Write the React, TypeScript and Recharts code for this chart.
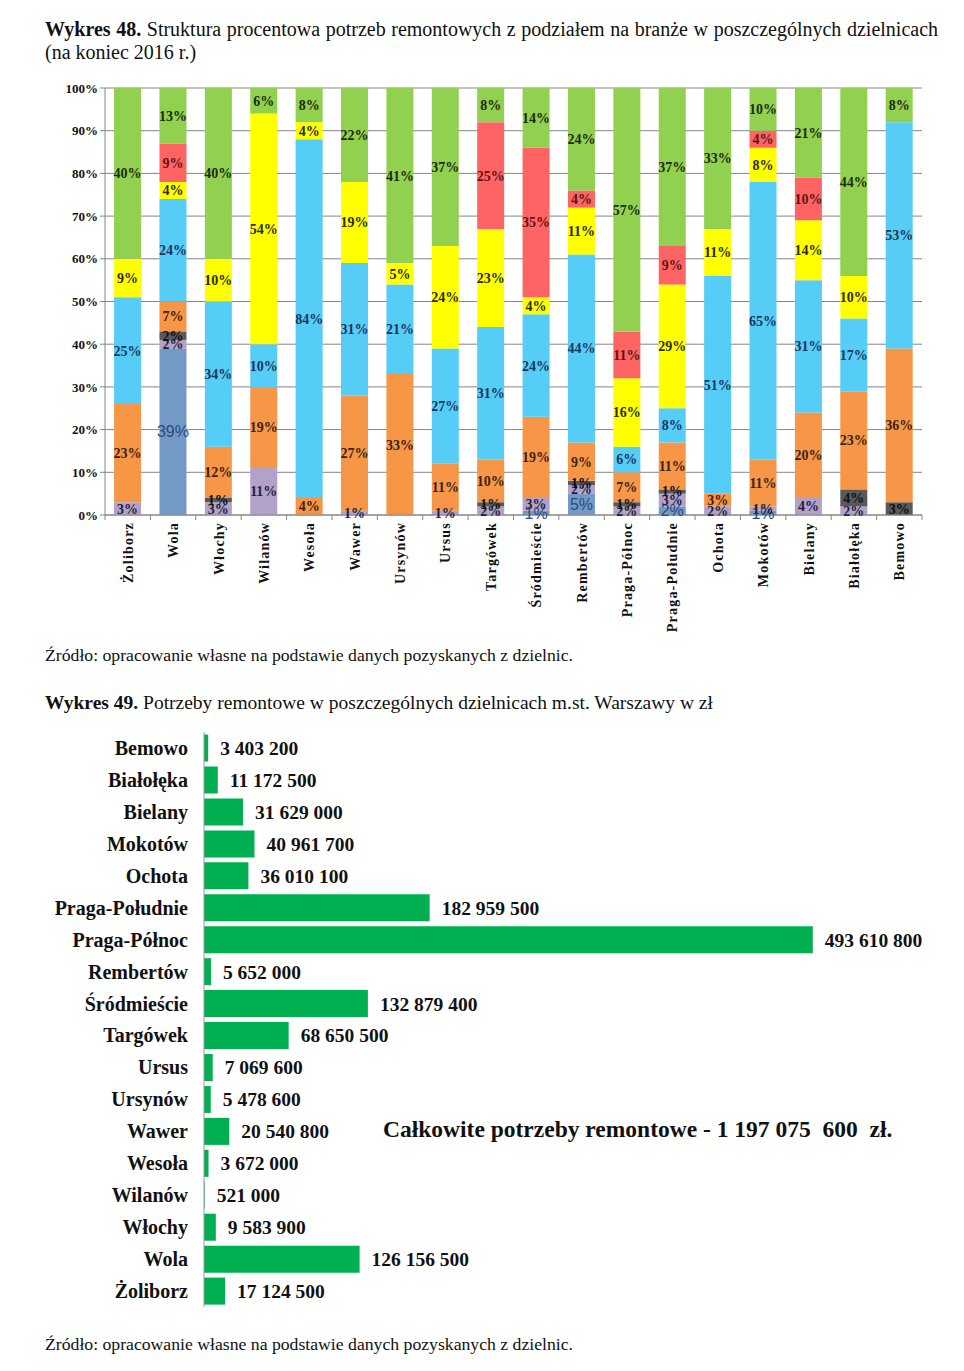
import React from 'react';
import { BarChart, Bar, XAxis, YAxis, CartesianGrid, LabelList } from 'recharts';

// Wykres 48 – districts (left to right)
const districts = [
  'Żoliborz', 'Wola', 'Włochy', 'Wilanów', 'Wesoła', 'Wawer', 'Ursynów', 'Ursus', 'Targówek',
  'Śródmieście', 'Rembertów', 'Praga-Północ', 'Praga-Południe', 'Ochota', 'Mokotów', 'Bielany',
  'Białołęka', 'Bemowo',
];
// shares per trade, bottom to top of each stack (%)
const steelShare = [0, 39, 0, 0, 0, 0, 0, 0, 0, 1, 5, 0, 2, 0, 1, 0, 0, 0];
const lilacShare = [3, 2, 3, 11, 0, 1, 0, 1, 2, 3, 2, 2, 3, 2, 1, 4, 2, 0];
const grayShare = [0, 2, 1, 0, 0, 0, 0, 0, 1, 0, 1, 1, 1, 0, 0, 0, 4, 3];
const orangeShare = [23, 7, 12, 19, 4, 27, 33, 11, 10, 19, 9, 7, 11, 3, 11, 20, 23, 36];
const blueShare = [25, 24, 34, 10, 84, 31, 21, 27, 31, 24, 44, 6, 8, 51, 65, 31, 17, 53];
const yellowShare = [9, 4, 10, 54, 4, 19, 5, 24, 23, 4, 11, 16, 29, 11, 8, 14, 10, 0];
const redShare = [0, 9, 0, 0, 0, 0, 0, 0, 25, 35, 4, 11, 9, 0, 4, 10, 0, 0];
const greenShare = [40, 13, 40, 6, 8, 22, 41, 37, 8, 14, 24, 57, 37, 33, 10, 21, 44, 8];
const percentTicks = [0, 10, 20, 30, 40, 50, 60, 70, 80, 90, 100];

// Wykres 49 – top to bottom
const districts2 = [
  'Bemowo', 'Białołęka', 'Bielany', 'Mokotów', 'Ochota', 'Praga-Południe', 'Praga-Północ',
  'Rembertów', 'Śródmieście', 'Targówek', 'Ursus', 'Ursynów', 'Wawer', 'Wesoła', 'Wilanów',
  'Włochy', 'Wola', 'Żoliborz',
];
const needsPln = [
  3403200, 11172500, 31629000, 40961700, 36010100, 182959500, 493610800, 5652000, 132879400,
  68650500, 7069600, 5478600, 20540800, 3672000, 521000, 9583900, 126156500, 17124500,
];

const SERIF = '"Liberation Serif", "Times New Roman", serif';

const series = [
  { key: 'steel', values: steelShare, color: '#7399c6', label: '#2b4c7e', font: '"Liberation Sans", Arial, sans-serif', weight: 'normal', size: 16 },
  { key: 'lilac', values: lilacShare, color: '#b3a2c7', label: '#1f1f3f', font: SERIF, weight: 'bold', size: 14 },
  { key: 'gray', values: grayShare, color: '#595959', label: '#111', font: SERIF, weight: 'bold', size: 14 },
  { key: 'orange', values: orangeShare, color: '#f79646', label: '#3b2313', font: SERIF, weight: 'bold', size: 14 },
  { key: 'blue', values: blueShare, color: '#55cdf6', label: '#17365d', font: SERIF, weight: 'bold', size: 14 },
  { key: 'yellow', values: yellowShare, color: '#ffff00', label: '#2b2b00', font: SERIF, weight: 'bold', size: 14 },
  { key: 'red', values: redShare, color: '#ff6464', label: '#5e1414', font: SERIF, weight: 'bold', size: 14 },
  { key: 'green', values: greenShare, color: '#92d050', label: '#1b2b0c', font: SERIF, weight: 'bold', size: 14 },
];

const shareData = districts.map((d, i) => {
  const row: Record<string, string | number> = { district: d };
  series.forEach((s) => { row[s.key] = s.values[i]; });
  return row;
});

const needsData = districts2.map((d, i) => ({ district: d, value: needsPln[i] }));

const fmtPln = (v: number) => String(v).replace(/\B(?=(\d{3})+(?!\d))/g, ' ');

const BAND = (922 - 105) / districts.length;

const DistrictTick = (props: any) => {
  const { x, y, payload, index } = props;
  return (
    <g transform={`translate(${x},${y})`}>
      {index === 0 && <line x1={-BAND / 2} x2={-BAND / 2} y1={0} y2={5} stroke="#868686" />}
      <line x1={BAND / 2} x2={BAND / 2} y1={0} y2={5} stroke="#868686" />
      <text
        transform="rotate(-90)"
        x={-7}
        y={0}
        dy="0.36em"
        textAnchor="end"
        fontFamily={SERIF}
        fontWeight="bold"
        fontSize={14}
        letterSpacing={1.2}
        fill="#111"
      >
        {payload.value}
      </text>
    </g>
  );
};

const NameTick = (props: any) => {
  const { x, y, payload } = props;
  return (
    <text x={x - 16} y={y} dy="0.35em" textAnchor="end" fontFamily={SERIF} fontWeight="bold" fontSize={20} fill="#111">
      {payload.value}
    </text>
  );
};

const pos = (left: number, top: number): React.CSSProperties => ({ position: 'absolute', left, top });

export default function App() {
  return (
    <div style={{ width: 964, height: 1371, fontFamily: SERIF, color: '#111' }}>
      <div style={{ ...pos(45, 18), width: 893, fontSize: 20, lineHeight: '23px' }}>
        <div style={{ textAlign: 'justify', textAlignLast: 'justify' as any, whiteSpace: 'nowrap' }}>
          <b>Wykres 48.</b> Struktura procentowa potrzeb remontowych z podziałem na branże w poszczególnych dzielnicach
        </div>
        <div>(na koniec 2016 r.)</div>
      </div>

      <div style={pos(0, 0)}>
        <BarChart
          width={964}
          height={650}
          data={shareData}
          margin={{ top: 88, right: 42, left: 45, bottom: 15 }}
          barCategoryGap="20%"
        >
          <CartesianGrid vertical={false} stroke="#868686" />
          <XAxis
            dataKey="district"
            interval={0}
            height={120}
            tickLine={false}
            tickSize={0}
            tickMargin={0}
            axisLine={{ stroke: '#868686' }}
            tick={<DistrictTick />}
          />
          <YAxis
            width={60}
            domain={[0, 100]}
            ticks={percentTicks}
            interval={0}
            tickFormatter={(v) => `${v}%`}
            axisLine={{ stroke: '#868686' }}
            tickLine={{ stroke: '#868686' }}
            tickSize={5}
            tick={{ fontFamily: SERIF, fontWeight: 'bold', fontSize: 13, fill: '#111' }}
          />
          {series.map((s) => (
            <Bar key={s.key} dataKey={s.key} stackId="a" fill={s.color} isAnimationActive={false}>
              <LabelList
                dataKey={s.key}
                position="center"
                formatter={(v: any) => (v ? `${v}%` : '')}
                fill={s.label}
                fontFamily={s.font}
                fontWeight={s.weight}
                fontSize={s.size}
              />
            </Bar>
          ))}
        </BarChart>
      </div>

      <div style={{ ...pos(45, 644), fontSize: 17.7, lineHeight: '22px', whiteSpace: 'nowrap' }}>
        Źródło: opracowanie własne na podstawie danych pozyskanych z dzielnic.
      </div>

      <div style={{ ...pos(45, 691), fontSize: 19.5, lineHeight: '23px', whiteSpace: 'nowrap' }}>
        <b>Wykres 49.</b> Potrzeby remontowe w poszczególnych dzielnicach m.st. Warszawy w zł
      </div>

      <div style={pos(0, 720)}>
        <BarChart
          width={964}
          height={600}
          layout="vertical"
          data={needsData}
          margin={{ top: 12, right: 20, left: 4, bottom: 13 }}
          barCategoryGap="8%"
        >
          <XAxis type="number" domain={[0, 600000000]} hide />
          <YAxis
            type="category"
            dataKey="district"
            width={200}
            interval={0}
            tickLine={false}
            tickSize={0}
            tickMargin={0}
            axisLine={{ stroke: '#999' }}
            tick={<NameTick />}
          />
          <Bar dataKey="value" fill="#00b050" isAnimationActive={false}>
            <LabelList
              dataKey="value"
              position="right"
              offset={12}
              formatter={(v: any) => fmtPln(Number(v))}
              fill="#111"
              fontFamily={SERIF}
              fontWeight="bold"
              fontSize={19.5}
            />
          </Bar>
        </BarChart>
      </div>

      <div style={{ ...pos(383, 1115), fontSize: 23.5, lineHeight: '28px', fontWeight: 'bold', whiteSpace: 'pre' }}>
        {'Całkowite potrzeby remontowe - 1 197 075  600  zł.'}
      </div>

      <div style={{ ...pos(45, 1333), fontSize: 17.7, lineHeight: '22px', whiteSpace: 'nowrap' }}>
        Źródło: opracowanie własne na podstawie danych pozyskanych z dzielnic.
      </div>
    </div>
  );
}
